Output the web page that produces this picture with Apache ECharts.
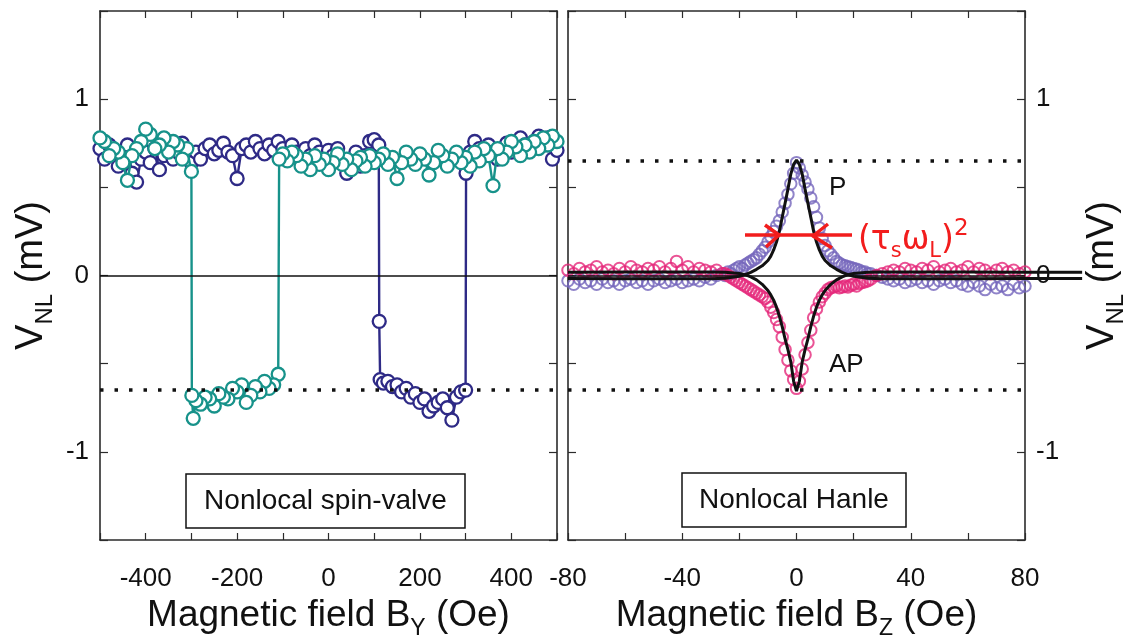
<!DOCTYPE html>
<html>
<head>
<meta charset="utf-8">
<script src="https://cdn.jsdelivr.net/npm/echarts@6/dist/echarts.min.js"></script>
<style>html,body{margin:0;padding:0;background:#fff}#c{width:1127px;height:642px}</style>
</head>
<body>
<div id="c"></div>
<script>
// ---------- Spin-valve (left panel) ----------
// sweep going down in field (teal)
const svDownX = [500,490,480,470,460,450,440,430,420,410,
  400,390,380,370,360,350,340,330,320,310,
  300,290,280,270,260,250,240,230,220,210,
  200,190,180,170,160,150,140,130,120,110,
  100,90,80,70,60,50,40,30,20,10,
  0,-10,-20,-30,-40,-50,-60,-70,-80,-90,
  -100,-108,
  -110,-120,-130,-140,-150,-160,-170,-180,-190,-200,-210,-220,-230,-240,-250,-260,-270,-280,-290,
  -296,-299,-300,
  -310,-320,-330,-340,-350,-360,-370,-380,-390,-400,
  -410,-420,-430,-440,-450,-460,-470,-480,-490,-500];
const svDownY = [0.76,0.79,0.74,0.78,0.72,0.76,0.70,0.74,0.68,0.73,
  0.76,0.70,0.66,0.72,0.51,0.68,0.72,0.65,0.70,0.62,
  0.67,0.64,0.70,0.66,0.62,0.68,0.71,0.64,0.57,0.66,
  0.69,0.63,0.66,0.70,0.64,0.55,0.67,0.63,0.69,0.66,
  0.64,0.68,0.62,0.67,0.65,0.60,0.66,0.63,0.69,0.64,
  0.60,0.66,0.63,0.68,0.60,0.66,0.62,0.68,0.70,0.65,
  0.69,0.66,
  -0.56,-0.62,-0.64,-0.60,-0.66,-0.63,-0.68,-0.72,-0.62,-0.66,-0.64,-0.70,-0.69,-0.67,-0.74,-0.70,-0.69,-0.73,-0.71,
  -0.81,-0.68,0.59,
  0.72,0.66,0.74,0.76,0.70,0.78,0.74,0.72,0.80,0.83,
  0.76,0.72,0.68,0.54,0.64,0.70,0.72,0.68,0.76,0.78];
// sweep going up in field (navy)
const svUpX = [-500,-490,-480,-470,-460,-450,-440,-430,-420,-410,
  -400,-390,-380,-370,-360,-350,-340,-330,-320,-310,
  -300,-290,-280,-270,-260,-250,-240,-230,-220,-210,
  -200,-190,-180,-170,-160,-150,-140,-130,-120,-110,
  -100,-90,-80,-70,-60,-50,-40,-30,-20,-10,
  0,10,20,30,40,50,60,70,80,90,
  100,110,111,113,
  120,130,140,150,160,170,180,190,200,210,220,230,240,250,260,270,280,290,300,
  301,
  310,320,330,340,350,360,370,380,390,400,
  410,420,430,440,450,460,470,480,490,500];
const svUpY = [0.72,0.66,0.74,0.70,0.62,0.68,0.74,0.58,0.53,0.66,
  0.70,0.64,0.72,0.60,0.68,0.74,0.66,0.70,0.75,0.68,
  0.64,0.70,0.66,0.72,0.74,0.69,0.71,0.75,0.70,0.68,
  0.55,0.72,0.74,0.70,0.76,0.72,0.69,0.74,0.71,0.76,
  0.72,0.69,0.74,0.70,0.66,0.72,0.68,0.74,0.70,0.66,
  0.71,0.68,0.72,0.64,0.58,0.66,0.70,0.62,0.68,0.76,
  0.77,0.74,-0.26,-0.59,
  -0.61,-0.60,-0.63,-0.62,-0.66,-0.64,-0.69,-0.67,-0.72,-0.70,-0.77,-0.74,-0.72,-0.70,-0.75,-0.82,-0.69,-0.66,-0.65,
  0.58,
  0.70,0.76,0.72,0.68,0.74,0.70,0.66,0.72,0.75,0.70,
  0.73,0.78,0.74,0.71,0.76,0.79,0.74,0.78,0.66,0.71];
const svLevel = [-0.65];

// ---------- Hanle (right panel) ----------
const hanleX = [-80,-78,-76,-74,-72,-70,-68,-66,-64,-62,-60,-58,-56,-54,-52,-50,-48,-46,-44,-42,-40,-38,-36,-34,-32,-30,-28,-26,
  -25,-24,-23,-22,-21,-20,-19,-18,-17,-16,-15,-14,-13,-12,-11,-10,-9,-8,-7,-6,-5,-4,-3,-2,-1,
  0,
  1,2,3,4,5,6,7,8,9,10,11,12,13,14,15,16,17,18,19,20,21,22,23,24,25,
  26,28,30,32,34,36,38,40,42,44,46,48,50,52,54,56,58,60,62,64,66,68,70,72,74,76,78,80];
const hanleP = [-0.03,-0.05,-0.02,-0.04,-0.03,-0.05,-0.02,-0.04,-0.03,-0.05,-0.03,-0.02,-0.04,-0.03,-0.05,-0.03,-0.02,-0.04,-0.03,-0.02,-0.04,-0.03,-0.02,-0.03,-0.01,-0.02,0.0,0.01,
  0.0,0.02,0.01,0.03,0.04,0.05,0.04,0.06,0.07,0.08,0.09,0.10,0.12,0.14,0.16,0.19,0.22,0.25,0.28,0.31,0.36,0.41,0.46,0.52,0.58,
  0.64,
  0.61,0.57,0.53,0.49,0.44,0.39,0.33,0.27,0.21,0.17,0.14,0.12,0.10,0.08,0.07,0.06,0.055,0.05,0.045,0.04,0.035,0.03,0.02,0.02,0.01,
  0.01,0.0,-0.01,-0.02,-0.03,-0.02,-0.04,-0.03,-0.02,-0.04,-0.03,-0.05,-0.03,-0.02,-0.04,-0.03,-0.05,-0.06,-0.04,-0.06,-0.08,-0.05,-0.07,-0.06,-0.08,-0.05,-0.07,-0.06];
const hanleAP = [0.03,0.01,0.04,0.02,0.03,0.05,0.02,0.03,0.01,0.04,0.02,0.05,0.03,0.02,0.04,0.03,0.05,0.02,0.04,0.08,0.03,0.05,0.02,0.04,0.03,0.02,0.03,0.01,
  0.01,0.0,-0.01,-0.02,-0.03,-0.04,-0.05,-0.06,-0.07,-0.08,-0.09,-0.10,-0.11,-0.12,-0.13,-0.15,-0.18,-0.21,-0.25,-0.29,-0.35,-0.42,-0.48,-0.54,-0.59,
  -0.64,
  -0.60,-0.53,-0.45,-0.38,-0.31,-0.24,-0.19,-0.15,-0.12,-0.10,-0.08,-0.07,-0.065,-0.06,-0.07,-0.065,-0.06,-0.065,-0.055,-0.05,-0.06,-0.045,-0.04,-0.035,-0.03,
  -0.02,0.0,0.01,0.02,0.03,0.02,0.04,0.03,0.02,0.04,0.03,0.05,0.02,0.03,0.04,0.02,0.03,0.05,0.02,0.04,0.03,0.01,0.03,0.04,0.02,0.03,0.01,0.02];
// fitted curves (they run a little past the right frame in the original figure)
const fitX = [-80,-60,-40,-30,-25,-20,-18,-16,-14,-12,-10,-9,-8,-7,-6,-5,-4,-3,-2,-1,0,1,2,3,4,5,6,7,8,9,10,12,14,16,18,20,25,30,40,60,80,100];
const fitP = [-0.017,-0.018,-0.019,-0.018,-0.015,-0.005,0.005,0.018,0.035,0.055,0.085,0.11,0.145,0.19,0.25,0.33,0.41,0.49,0.575,0.63,0.655,0.63,0.575,0.49,0.41,0.33,0.25,0.19,0.145,0.11,0.085,0.055,0.035,0.018,0.005,-0.005,-0.015,-0.018,-0.019,-0.018,-0.017,-0.017];
const fitAP = [0.019,0.02,0.02,0.02,0.018,0.012,0.005,-0.008,-0.025,-0.05,-0.085,-0.11,-0.14,-0.18,-0.23,-0.29,-0.36,-0.42,-0.49,-0.6,-0.655,-0.6,-0.49,-0.42,-0.36,-0.29,-0.23,-0.18,-0.14,-0.11,-0.085,-0.05,-0.025,-0.008,0.005,0.012,0.018,0.02,0.02,0.02,0.019,0.019];
const hanleLevels = [0.65, -0.65];

// ---------- styling ----------
const FONT = '"Liberation Sans", Arial, Helvetica, sans-serif';
const AX = '#2b2b2b';
const NAVY = '#2e2a86', TEAL = '#17928a', PURP = '#7465bb', PINK = '#e5287a';
const pairs = (xs, ys) => xs.map((x, i) => [x, ys[i]]);

// panel geometry
const PANEL_TOP = 11, PANEL_H = 529, PANEL_W = 457;
const LEFT1 = 100, LEFT2 = 568;
const FIT_XMIN = -80, FIT_XMAX = 100;

const xTitleRich = {
  a: {fontSize: 37, fontFamily: FONT, color: '#111', lineHeight: 50},
  s: {fontSize: 23, fontFamily: FONT, color: '#111', lineHeight: 22, verticalAlign: 'bottom'}
};
const yTitleRich = {
  a: {fontSize: 38, fontFamily: FONT, color: '#111', lineHeight: 50},
  s: {fontSize: 24, fontFamily: FONT, color: '#111', lineHeight: 22, verticalAlign: 'bottom'}
};

function xAxisDef(grid, min, max, step, labStep, pos, name) {
  return {
    gridIndex: grid, type: 'value', min: min, max: max, interval: step, position: pos,
    axisLine: {show: true, onZero: false, lineStyle: {color: AX, width: 1.6}},
    axisTick: {show: true, inside: true, length: 7, lineStyle: {color: AX, width: 1.2}},
    splitLine: {show: false},
    axisLabel: pos === 'bottom' ? {show: true, margin: 26, fontSize: 26, fontFamily: FONT, color: '#111',
      showMinLabel: true, showMaxLabel: true,
      formatter: v => (Math.abs(v) % labStep === 0 ? String(v) : '')} : {show: false},
    name: name || '', nameLocation: 'middle', nameGap: 46,
    nameTextStyle: {rich: xTitleRich}
  };
}
function yAxisDef(grid, pos, labels, name, gap) {
  return {
    gridIndex: grid, type: 'value', min: -1.5, max: 1.5, interval: 0.5, position: pos,
    axisLine: {show: true, onZero: false, lineStyle: {color: AX, width: 1.6}},
    axisTick: {show: true, inside: true, length: 8, lineStyle: {color: AX, width: 1.2}},
    splitLine: {show: false},
    axisLabel: labels ? {show: true, margin: 11, fontSize: 26, fontFamily: FONT, color: '#111',
      formatter: v => (Number.isInteger(v) ? String(v) : '')} : {show: false},
    name: name || '', nameLocation: 'middle', nameRotate: 90, nameGap: gap || 0,
    nameTextStyle: {rich: yTitleRich}
  };
}
const hiddenAxis = (grid, min, max) => ({gridIndex: grid, type: 'value', min: min, max: max, show: false,
  splitLine: {show: false}});

const levelLine = (v) => ({yAxis: v, lineStyle: {type: [3.5, 11], width: 3.5, color: '#111'}});
const zeroLine = {yAxis: 0, lineStyle: {type: 'solid', width: 1.5, color: '#111'}};

const option = {
  animation: false,
  backgroundColor: '#fff',
  grid: [
    {left: LEFT1, top: PANEL_TOP, width: PANEL_W, height: PANEL_H, containLabel: false, outerBoundsMode: 'none'},
    {left: LEFT2, top: PANEL_TOP, width: PANEL_W, height: PANEL_H, containLabel: false, outerBoundsMode: 'none'},
    // same scale as the Hanle panel, but extended to the right so the fits can overrun the frame
    {left: LEFT2, top: PANEL_TOP, width: PANEL_W * (FIT_XMAX - FIT_XMIN) / 160, height: PANEL_H,
      containLabel: false, outerBoundsMode: 'none'}
  ],
  xAxis: [
    xAxisDef(0, -500, 500, 100, 200, 'bottom', '{a|Magnetic field B}{s|Y}{a| (Oe)}'),
    xAxisDef(0, -500, 500, 100, 200, 'top'),
    xAxisDef(1, -80, 80, 20, 40, 'bottom', '{a|Magnetic field B}{s|Z}{a| (Oe)}'),
    xAxisDef(1, -80, 80, 20, 40, 'top'),
    hiddenAxis(2, FIT_XMIN, FIT_XMAX)
  ],
  yAxis: [
    yAxisDef(0, 'left', true, '{a|V}{s|NL}{a| (mV)}', 43),
    yAxisDef(0, 'right', false),
    yAxisDef(1, 'left', false),
    yAxisDef(1, 'right', true, '{a|V}{s|NL}{a| (mV)}', 53),
    hiddenAxis(2, -1.5, 1.5)
  ],
  series: [
    {
      name: 'up sweep', type: 'line', xAxisIndex: 0, yAxisIndex: 0,
      data: pairs(svUpX, svUpY), symbol: 'circle', symbolSize: 13,
      itemStyle: {color: '#fff', borderColor: NAVY, borderWidth: 2.3},
      lineStyle: {color: NAVY, width: 2.4}, z: 2
    },
    {
      name: 'down sweep', type: 'line', xAxisIndex: 0, yAxisIndex: 0,
      data: pairs(svDownX, svDownY), symbol: 'circle', symbolSize: 13,
      itemStyle: {color: '#fff', borderColor: TEAL, borderWidth: 2.3},
      lineStyle: {color: TEAL, width: 2.4}, z: 3,
      markLine: {silent: true, symbol: ['none', 'none'], label: {show: false},
        data: [zeroLine].concat(svLevel.map(levelLine))}
    },
    {
      name: 'P', type: 'scatter', xAxisIndex: 2, yAxisIndex: 2,
      data: pairs(hanleX, hanleP), symbol: 'circle', symbolSize: 11.5,
      itemStyle: {color: 'rgba(0,0,0,0)', borderColor: PURP, borderWidth: 2}, z: 2
    },
    {
      name: 'AP', type: 'scatter', xAxisIndex: 2, yAxisIndex: 2,
      data: pairs(hanleX, hanleAP), symbol: 'circle', symbolSize: 11.5,
      itemStyle: {color: 'rgba(0,0,0,0)', borderColor: PINK, borderWidth: 2}, z: 3,
      markLine: {silent: true, symbol: ['none', 'none'], label: {show: false},
        data: [zeroLine].concat(hanleLevels.map(levelLine))}
    },
    {
      name: 'fit P', type: 'line', xAxisIndex: 4, yAxisIndex: 4,
      data: pairs(fitX, fitP), showSymbol: false, symbol: 'none',
      lineStyle: {color: '#111', width: 3}, z: 5
    },
    {
      name: 'fit AP', type: 'line', xAxisIndex: 4, yAxisIndex: 4,
      data: pairs(fitX, fitAP), showSymbol: false, symbol: 'none',
      lineStyle: {color: '#111', width: 3}, z: 5
    }
  ],
  graphic: [
    {type: 'rect', z: 50, shape: {x: 186, y: 474, width: 279, height: 54},
      style: {fill: '#fff', stroke: '#111', lineWidth: 1.5}},
    {type: 'text', z: 51, x: 325.5, y: 501,
      style: {text: 'Nonlocal spin-valve', fontSize: 28, fontFamily: FONT, fill: '#111', align: 'center', verticalAlign: 'middle'}},
    {type: 'rect', z: 50, shape: {x: 682, y: 473, width: 224, height: 54},
      style: {fill: '#fff', stroke: '#111', lineWidth: 1.5}},
    {type: 'text', z: 51, x: 794, y: 500,
      style: {text: 'Nonlocal Hanle', fontSize: 28, fontFamily: FONT, fill: '#111', align: 'center', verticalAlign: 'middle'}},
    {type: 'text', z: 51, x: 829, y: 188,
      style: {text: 'P', fontSize: 26, fontFamily: FONT, fill: '#111', align: 'left', verticalAlign: 'middle'}},
    {type: 'text', z: 51, x: 829, y: 365,
      style: {text: 'AP', fontSize: 26, fontFamily: FONT, fill: '#111', align: 'left', verticalAlign: 'middle'}},
    {type: 'polyline', z: 60, shape: {points: [[745, 235], [852, 235]]},
      style: {stroke: '#f21d1d', lineWidth: 3.5, fill: null}},
    {type: 'polyline', z: 60, shape: {points: [[765, 225], [779, 235], [766, 247]]},
      style: {stroke: '#f21d1d', lineWidth: 3.5, fill: null, lineJoin: 'round'}},
    {type: 'polyline', z: 60, shape: {points: [[828, 224], [813, 236], [832, 248]]},
      style: {stroke: '#f21d1d', lineWidth: 3.5, fill: null, lineJoin: 'round'}},
    {type: 'text', z: 60, x: 858, y: 240,
      style: {text: '{a|(τ}{s|s}{a|ω}{s|L}{a|)}{p|2}', align: 'left', verticalAlign: 'middle',
        rich: {
          a: {fontSize: 33, fontFamily: '"DejaVu Sans", sans-serif', fill: '#f21d1d', color: '#f21d1d', lineHeight: 44},
          s: {fontSize: 21, fontFamily: '"DejaVu Sans", sans-serif', fill: '#f21d1d', color: '#f21d1d', lineHeight: 20, verticalAlign: 'bottom'},
          p: {fontSize: 23, fontFamily: '"DejaVu Sans", sans-serif', fill: '#f21d1d', color: '#f21d1d', lineHeight: 22, verticalAlign: 'top'}
        }}}
  ]
};

const chart = echarts.init(document.getElementById('c'), null, {renderer: 'canvas'});
chart.setOption(option);
</script>
</body>
</html>
